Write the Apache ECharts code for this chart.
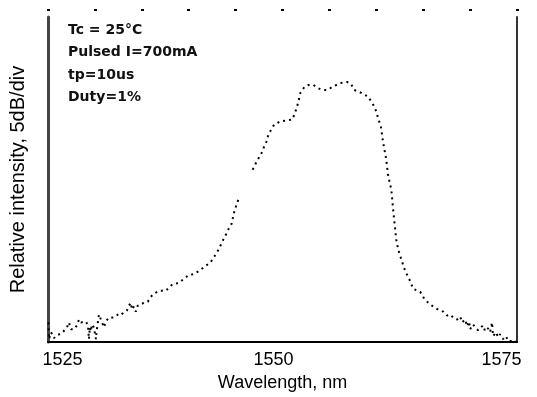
<!DOCTYPE html>
<html>
<head>
<meta charset="utf-8">
<script src="https://cdn.jsdelivr.net/npm/echarts@6/dist/echarts.min.js"></script>
<style>
html, body { margin: 0; padding: 0; background: #fff; }
#main { width: 537px; height: 397px; }
</style>
</head>
<body>
<div id="main"></div>
<script>
// wavelength (nm) and relative intensity (dB, 0 = top of frame)
const wavelength = [
	1525.05, 1525.11, 1525.32, 1525.64, 1525.96, 1526.17, 1526.49, 1526.70, 1527.02, 1527.23,
	1527.45, 1527.77, 1528.09, 1528.30, 1528.51, 1528.72, 1529.04, 1529.26, 1529.36, 1529.47,
	1529.57, 1529.68, 1529.89, 1530.11, 1530.21, 1530.43, 1530.64, 1530.96, 1531.17, 1531.49,
	1531.91, 1532.23, 1532.55, 1532.77, 1533.09, 1533.40, 1533.62, 1533.83, 1533.94, 1534.15,
	1534.36, 1534.57, 1534.89, 1535.21, 1535.64, 1535.96, 1536.28, 1536.81, 1537.55, 1538.30,
	1538.94, 1539.47, 1540.00, 1540.53, 1541.06, 1541.60, 1542.34, 1542.87, 1543.19, 1543.69,
	1544.01, 1544.26, 1544.57, 1544.82, 1545.11, 1545.43, 1546.10, 1546.81, 1547.13, 1547.41,
	1547.73, 1547.98, 1548.27, 1548.51, 1549.12, 1549.79, 1550.43, 1551.06, 1551.38, 1551.67,
	1551.91, 1552.34, 1552.77, 1553.30, 1553.72, 1554.22, 1554.79, 1555.32, 1556.17, 1556.88,
	1557.31, 1557.63, 1558.40, 1559.15, 1559.86, 1560.18, 1560.50, 1560.74, 1561.03, 1561.28,
	1561.60, 1561.81, 1562.13, 1562.34, 1562.73, 1563.09, 1563.51, 1563.94, 1564.68, 1565.11,
	1565.53, 1566.06, 1566.60, 1567.13, 1567.55, 1567.87, 1568.30, 1568.62, 1568.94, 1569.15,
	1569.47, 1569.68, 1569.89, 1570.00, 1570.32, 1570.53, 1570.85, 1571.06, 1571.38, 1571.60,
	1571.91, 1572.13, 1572.34, 1572.45, 1572.77, 1572.98, 1573.19, 1573.51, 1573.83, 1574.04,
	1574.57, 1574.89
];
const intensity = [
	-31.0, -32.7, -32.0, -32.6, -32.3, -32.5, -32.1, -32.2, -31.5, -31.0,
	-31.7, -31.7, -31.3, -30.7, -31.0, -30.8, -30.9, -31.3, -32.7, -31.5,
	-31.9, -31.2, -31.5, -32.7, -31.7, -30.2, -30.7, -31.5, -30.9, -30.5,
	-30.5, -30.4, -30.1, -30.2, -30.0, -29.8, -29.3, -29.0, -29.7, -29.4,
	-29.9, -29.3, -29.2, -29.0, -28.9, -28.4, -28.1, -27.8, -27.8, -27.1,
	-27.0, -26.6, -26.2, -26.1, -25.8, -25.4, -24.9, -24.1, -23.6, -22.6,
	-22.0, -21.5, -21.0, -19.9, -19.0, -18.2, null, -15.5, -14.9, -14.4,
	-13.9, -13.3, -12.7, -11.9, -10.9, -10.6, -10.5, -10.4, -9.6, -8.7,
	-7.7, -7.1, -6.9, -6.9, -7.2, -7.4, -7.4, -7.1, -6.7, -6.6,
	-6.8, -7.4, -7.7, -8.1, -9.2, -10.2, -11.2, -12.8, -14.3, -16.2,
	-17.5, -19.7, -22.6, -23.6, -24.8, -25.8, -26.6, -27.6, -27.9, -28.6,
	-29.0, -29.4, -29.7, -29.9, -30.3, -30.2, -30.6, -30.7, -30.4, -31.0,
	-30.7, -31.4, -30.9, -31.7, -31.2, -31.5, -31.8, -31.7, -31.3, -31.9,
	-31.6, -32.0, -31.0, -32.4, -32.0, -32.5, -32.2, -32.7, -32.4, -32.9,
	-32.9, -32.9
];
const notes = ["Tc = 25°C", "Pulsed I=700mA", "tp=10us", "Duty=1%"];
const xTicks = [1525, 1550, 1575];

const points = [];
for(let i = 0; i < wavelength.length; i++){
	points.push([wavelength[i], intensity[i]]);
}

const mychart = echarts.init(document.getElementById("main"));

const texts = [];
for(let i = 0; i < notes.length; i++){
	texts.push({type: "text", left: 68, top: 23 + i * 22.5,
		style: {text: notes[i], fill: "#111", font: "bold 14px 'DejaVu Sans'"}});
}

// labels in the scan sit a little off their ticks
const labelStyle = {
	l0: {fontSize: 18, fontFamily: "Liberation Sans", color: "#000", padding: [0, 0, 0, 29]},
	l1: {fontSize: 18, fontFamily: "Liberation Sans", color: "#000", padding: [0, 18, 0, 0]},
	l2: {fontSize: 18, fontFamily: "Liberation Sans", color: "#000", padding: [0, 31, 0, 0]}
};

const option = {
	animation: false,
	backgroundColor: "#fff",
	grid: {left: 47, right: 20, top: 17, bottom: 54},
	xAxis: [
		{type: "value", position: "bottom", min: 1525, max: 1575, interval: 25,
			axisLine: {show: true, onZero: false, lineStyle: {color: "#000", width: 2}},
			axisTick: {show: false}, splitLine: {show: false},
			axisLabel: {margin: 9, formatter: function(v){
				const k = xTicks.indexOf(v);
				return "{l" + k + "|" + v + "}";
			}, rich: labelStyle},
			name: "Wavelength, nm", nameLocation: "middle", nameGap: 31,
			nameTextStyle: {color: "#000", fontSize: 18, fontFamily: "Liberation Sans"}},
		{type: "value", position: "top", min: 1525, max: 1575, interval: 5, offset: 8,
			axisLine: {show: false, onZero: false}, splitLine: {show: false},
			axisTick: {show: true, inside: true, length: 2, lineStyle: {color: "#000", width: 3}},
			axisLabel: {show: false}}
	],
	yAxis: [
		{type: "value", min: -33, max: 0, position: "left",
			axisLine: {show: true, onZero: false, lineStyle: {color: "#444", width: 3}},
			axisTick: {show: false}, splitLine: {show: false}, axisLabel: {show: false},
			name: "Relative intensity, 5dB/div", nameLocation: "middle", nameGap: 20,
			nameTextStyle: {color: "#000", fontSize: 20, fontFamily: "Liberation Sans"}},
		{type: "value", min: -33, max: 0, position: "right",
			axisLine: {show: true, onZero: false, lineStyle: {color: "#333", width: 2}},
			axisTick: {show: false}, splitLine: {show: false}, axisLabel: {show: false}}
	],
	series: [{type: "line", data: points, xAxisIndex: 0, yAxisIndex: 0,
		symbol: "none", connectNulls: false,
		lineStyle: {color: "#000", width: 2, type: [2, 4]}}],
	graphic: texts
};
mychart.setOption(option);
</script>
</body>
</html>
